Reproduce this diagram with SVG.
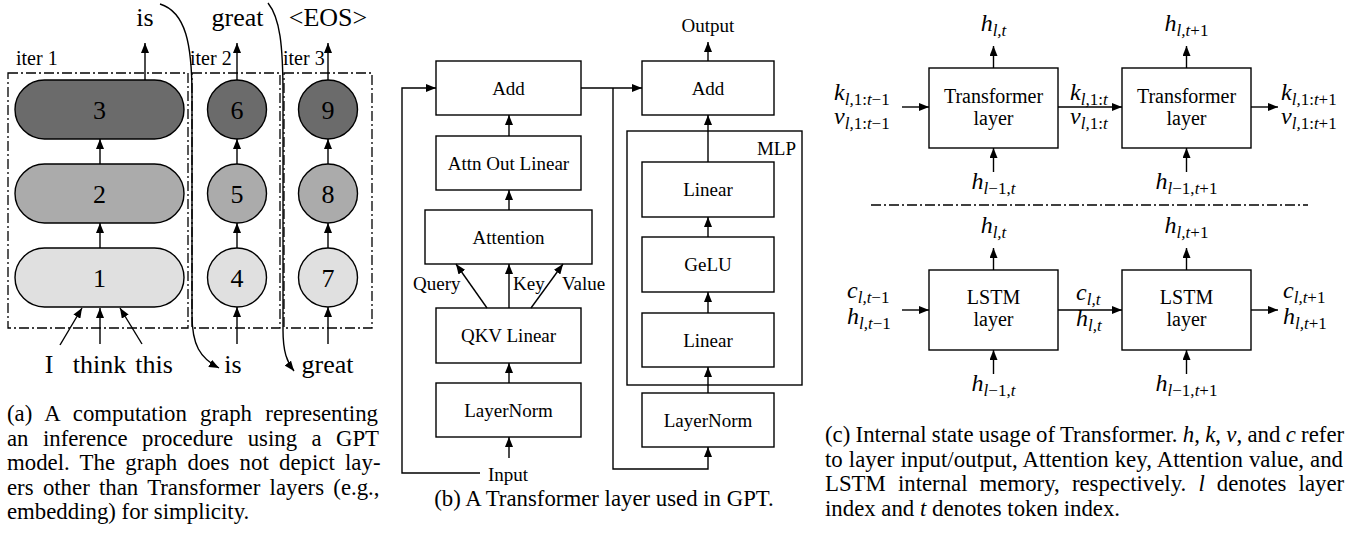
<svg xmlns="http://www.w3.org/2000/svg" width="1359" height="548" viewBox="0 0 1359 548">
<style>
.t{font-family:"Liberation Serif","Times New Roman",serif;fill:#000}
.big{font-size:26px}
.lab{font-size:19px}
.it{font-size:20px}
.cap{font-size:22.8px}
.m{font-family:"Liberation Serif","Times New Roman",serif;font-style:italic;font-size:24px;fill:#000}
.sub{font-size:17px}
.r{font-style:normal}
.box{fill:#fff;stroke:#000;stroke-width:1.4}
.ln{fill:none;stroke:#000;stroke-width:1.4}
.arr{fill:none;stroke:#000;stroke-width:1.4;marker-end:url(#ah)}
.dd{fill:none;stroke:#000;stroke-width:1.3;stroke-dasharray:10 3 2 3}
.n3{fill:#6b6b6b;stroke:#000;stroke-width:1.4}
.n2{fill:#ababab;stroke:#000;stroke-width:1.4}
.n1{fill:#e0e0e0;stroke:#000;stroke-width:1.4}
</style>
<defs>
<marker id="ah" viewBox="0 0 10 8" refX="10" refY="4" markerWidth="10" markerHeight="8" markerUnits="userSpaceOnUse" orient="auto"><path d="M0,0 L10,4 L0,8 z" fill="#000"/></marker>
</defs>

<!-- Panel (a) -->
<g id="a-iter-boxes">
<rect class="dd" x="8" y="73" width="180" height="255"/>
<rect class="dd" x="192" y="73" width="88" height="255"/>
<rect class="dd" x="284" y="73" width="88" height="255"/>
<text class="t it" x="16" y="65">iter 1</text>
<text class="t it" x="190" y="65">iter 2</text>
<text class="t it" x="283" y="65">iter 3</text>
</g>
<g id="node-3"><rect class="n3" x="15" y="80" width="169" height="59" rx="29.5"/><text class="t big" x="99.5" y="119" text-anchor="middle">3</text></g>
<g id="node-2"><rect class="n2" x="15" y="164" width="169" height="59" rx="29.5"/><text class="t big" x="99.5" y="203" text-anchor="middle">2</text></g>
<g id="node-1"><rect class="n1" x="15" y="248" width="169" height="59" rx="29.5"/><text class="t big" x="99.5" y="287" text-anchor="middle">1</text></g>
<g id="node-6"><circle class="n3" cx="237" cy="109.5" r="29.5"/><text class="t big" x="237" y="119" text-anchor="middle">6</text></g>
<g id="node-5"><circle class="n2" cx="237" cy="193.5" r="29.5"/><text class="t big" x="237" y="203" text-anchor="middle">5</text></g>
<g id="node-4"><circle class="n1" cx="237" cy="277.5" r="29.5"/><text class="t big" x="237" y="287" text-anchor="middle">4</text></g>
<g id="node-9"><circle class="n3" cx="328" cy="109.5" r="29.5"/><text class="t big" x="328" y="119" text-anchor="middle">9</text></g>
<g id="node-8"><circle class="n2" cx="328" cy="193.5" r="29.5"/><text class="t big" x="328" y="203" text-anchor="middle">8</text></g>
<g id="node-7"><circle class="n1" cx="328" cy="277.5" r="29.5"/><text class="t big" x="328" y="287" text-anchor="middle">7</text></g>
<g id="a-tokens">
<text class="t big" x="145" y="26" text-anchor="middle">is</text>
<text class="t big" x="237.5" y="26" text-anchor="middle">great</text>
<text class="t big" x="328" y="26" text-anchor="middle">&lt;EOS&gt;</text>
<text class="t big" x="49" y="373" text-anchor="middle">I</text>
<text class="t big" x="99.5" y="373" text-anchor="middle">think</text>
<text class="t big" x="154" y="373" text-anchor="middle">this</text>
<text class="t big" x="233" y="373" text-anchor="middle">is</text>
<text class="t big" x="327.5" y="373" text-anchor="middle">great</text>
</g>
<g id="a-connectors">
<line class="arr" x1="145" y1="80" x2="145" y2="43"/>
<line class="arr" x1="237" y1="80" x2="237" y2="43"/>
<line class="arr" x1="328" y1="80" x2="328" y2="43"/>
<line class="arr" x1="100" y1="164" x2="100" y2="139"/>
<line class="arr" x1="237" y1="164" x2="237" y2="139"/>
<line class="arr" x1="328" y1="164" x2="328" y2="139"/>
<line class="arr" x1="100" y1="248" x2="100" y2="223"/>
<line class="arr" x1="237" y1="248" x2="237" y2="223"/>
<line class="arr" x1="328" y1="248" x2="328" y2="223"/>
<line class="arr" x1="60" y1="345" x2="82" y2="308"/>
<line class="arr" x1="100" y1="344" x2="100" y2="308"/>
<line class="arr" x1="142" y1="344" x2="120" y2="308"/>
<line class="arr" x1="237" y1="344" x2="237" y2="307"/>
<line class="arr" x1="328" y1="344" x2="328" y2="307"/>
<path class="arr" d="M160,4 C186,12 192,45 192,95 L192,315 C192,345 200,358 219,368"/>
<path class="arr" d="M268,3 C280,18 283,45 283,95 L283,330 C283,352 287,362 294,371"/>
</g>

<!-- Panel (b) -->
<g id="b-add1"><rect class="box" x="436" y="61" width="145" height="54"/><text class="t lab" x="508.5" y="94.5" text-anchor="middle">Add</text></g>
<g id="b-attnout"><rect class="box" x="436" y="136" width="145" height="54"/><text class="t lab" x="508.5" y="169.5" text-anchor="middle">Attn Out Linear</text></g>
<g id="b-attention"><rect class="box" x="425" y="210" width="167" height="54"/><text class="t lab" x="508.5" y="243.5" text-anchor="middle">Attention</text></g>
<g id="b-qkv"><rect class="box" x="436" y="308" width="145" height="55"/><text class="t lab" x="508.5" y="342" text-anchor="middle">QKV Linear</text></g>
<g id="b-ln1"><rect class="box" x="436" y="383" width="145" height="54"/><text class="t lab" x="508.5" y="416.5" text-anchor="middle">LayerNorm</text></g>
<g id="b-mlp"><rect class="box" x="627" y="131" width="175" height="254" style="fill:none"/><text class="t lab" x="796" y="155" text-anchor="end">MLP</text></g>
<g id="b-add2"><rect class="box" x="642" y="61" width="132" height="54"/><text class="t lab" x="708" y="94.5" text-anchor="middle">Add</text></g>
<g id="b-linear2"><rect class="box" x="642" y="162" width="132" height="55"/><text class="t lab" x="708" y="196" text-anchor="middle">Linear</text></g>
<g id="b-gelu"><rect class="box" x="642" y="237" width="132" height="55"/><text class="t lab" x="708" y="271" text-anchor="middle">GeLU</text></g>
<g id="b-linear1"><rect class="box" x="642" y="313" width="132" height="54"/><text class="t lab" x="708" y="346.5" text-anchor="middle">Linear</text></g>
<g id="b-ln2"><rect class="box" x="642" y="393" width="132" height="54"/><text class="t lab" x="708" y="426.5" text-anchor="middle">LayerNorm</text></g>
<g id="b-labels">
<text class="t lab" x="708" y="32" text-anchor="middle">Output</text>
<text class="t lab" x="488" y="481">Input</text>
<text class="t lab" x="413" y="290">Query</text>
<text class="t lab" x="513" y="290">Key</text>
<text class="t lab" x="562" y="290">Value</text>
</g>
<g id="b-connectors">
<line class="arr" x1="509" y1="458" x2="509" y2="437"/>
<line class="arr" x1="509" y1="383" x2="509" y2="363"/>
<line class="arr" x1="487" y1="308" x2="456" y2="264"/>
<line class="arr" x1="509" y1="308" x2="509" y2="264"/>
<line class="arr" x1="531" y1="308" x2="563" y2="264"/>
<line class="arr" x1="509" y1="210" x2="509" y2="190"/>
<line class="arr" x1="509" y1="136" x2="509" y2="115"/>
<path class="arr" d="M480,473 L402,473 L402,88 L436,88"/>
<line class="arr" x1="581" y1="88" x2="642" y2="88"/>
<path class="arr" d="M613,88 L613,469 L708,469 L708,447"/>
<line class="arr" x1="708" y1="393" x2="708" y2="367"/>
<line class="arr" x1="708" y1="313" x2="708" y2="292"/>
<line class="arr" x1="708" y1="237" x2="708" y2="217"/>
<line class="arr" x1="708" y1="162" x2="708" y2="115"/>
<line class="arr" x1="708" y1="61" x2="708" y2="42"/>
</g>

<!-- Panel (c) -->
<g id="c-trans1"><rect class="box" x="929" y="68" width="129" height="80"/><text class="t it" x="993.5" y="103" text-anchor="middle">Transformer</text><text class="t it" x="993.5" y="125" text-anchor="middle">layer</text></g>
<g id="c-trans2"><rect class="box" x="1122" y="68" width="129" height="80"/><text class="t it" x="1186.5" y="103" text-anchor="middle">Transformer</text><text class="t it" x="1186.5" y="125" text-anchor="middle">layer</text></g>
<g id="c-lstm1"><rect class="box" x="929" y="270" width="129" height="80"/><text class="t it" x="993.5" y="304" text-anchor="middle">LSTM</text><text class="t it" x="993.5" y="326" text-anchor="middle">layer</text></g>
<g id="c-lstm2"><rect class="box" x="1122" y="270" width="129" height="80"/><text class="t it" x="1186.5" y="304" text-anchor="middle">LSTM</text><text class="t it" x="1186.5" y="326" text-anchor="middle">layer</text></g>
<g id="c-labels">
<text class="m" x="993.5" y="31" text-anchor="middle">h<tspan class="sub" dy="5">l,t</tspan></text>
<text class="m" x="1186.5" y="31" text-anchor="middle">h<tspan class="sub" dy="5">l,t<tspan class="r">+1</tspan></tspan></text>
<text class="m" x="993.5" y="189" text-anchor="middle">h<tspan class="sub" dy="5">l<tspan class="r">−1,</tspan>t</tspan></text>
<text class="m" x="1186.5" y="189" text-anchor="middle">h<tspan class="sub" dy="5">l<tspan class="r">−1,</tspan>t<tspan class="r">+1</tspan></tspan></text>
<text class="m" x="834" y="100">k<tspan class="sub" dy="5">l,<tspan class="r">1:</tspan>t<tspan class="r">−1</tspan></tspan></text>
<text class="m" x="834" y="124">v<tspan class="sub" dy="5">l,<tspan class="r">1:</tspan>t<tspan class="r">−1</tspan></tspan></text>
<text class="m" x="1070" y="100">k<tspan class="sub" dy="5">l,<tspan class="r">1:</tspan>t</tspan></text>
<text class="m" x="1070" y="124">v<tspan class="sub" dy="5">l,<tspan class="r">1:</tspan>t</tspan></text>
<text class="m" x="1281" y="100">k<tspan class="sub" dy="5">l,<tspan class="r">1:</tspan>t<tspan class="r">+1</tspan></tspan></text>
<text class="m" x="1281" y="124">v<tspan class="sub" dy="5">l,<tspan class="r">1:</tspan>t<tspan class="r">+1</tspan></tspan></text>
<text class="m" x="993.5" y="233" text-anchor="middle">h<tspan class="sub" dy="5">l,t</tspan></text>
<text class="m" x="1186.5" y="233" text-anchor="middle">h<tspan class="sub" dy="5">l,t<tspan class="r">+1</tspan></tspan></text>
<text class="m" x="993.5" y="391" text-anchor="middle">h<tspan class="sub" dy="5">l<tspan class="r">−1,</tspan>t</tspan></text>
<text class="m" x="1186.5" y="391" text-anchor="middle">h<tspan class="sub" dy="5">l<tspan class="r">−1,</tspan>t<tspan class="r">+1</tspan></tspan></text>
<text class="m" x="847" y="298">c<tspan class="sub" dy="5">l,t<tspan class="r">−1</tspan></tspan></text>
<text class="m" x="847" y="324">h<tspan class="sub" dy="5">l,t<tspan class="r">−1</tspan></tspan></text>
<text class="m" x="1076" y="300">c<tspan class="sub" dy="5">l,t</tspan></text>
<text class="m" x="1076" y="326">h<tspan class="sub" dy="5">l,t</tspan></text>
<text class="m" x="1283" y="298">c<tspan class="sub" dy="5">l,t<tspan class="r">+1</tspan></tspan></text>
<text class="m" x="1283" y="324">h<tspan class="sub" dy="5">l,t<tspan class="r">+1</tspan></tspan></text>
</g>
<g id="c-connectors">
<line class="arr" x1="993.5" y1="68" x2="993.5" y2="46"/>
<line class="arr" x1="1186.5" y1="68" x2="1186.5" y2="46"/>
<line class="arr" x1="993.5" y1="172" x2="993.5" y2="148"/>
<line class="arr" x1="1186.5" y1="172" x2="1186.5" y2="148"/>
<line class="arr" x1="902" y1="107" x2="929" y2="107"/>
<line class="arr" x1="1058" y1="107" x2="1122" y2="107"/>
<line class="arr" x1="1251" y1="107" x2="1278" y2="107"/>
<line class="dd" x1="871" y1="205" x2="1308" y2="205"/>
<line class="arr" x1="993.5" y1="270" x2="993.5" y2="248"/>
<line class="arr" x1="1186.5" y1="270" x2="1186.5" y2="248"/>
<line class="arr" x1="993.5" y1="374" x2="993.5" y2="350"/>
<line class="arr" x1="1186.5" y1="374" x2="1186.5" y2="350"/>
<line class="arr" x1="902" y1="310" x2="929" y2="310"/>
<line class="arr" x1="1058" y1="310" x2="1122" y2="310"/>
<line class="arr" x1="1251" y1="310" x2="1278" y2="310"/>
</g>

<!-- Captions -->
<g id="captions">
<text class="t cap" x="7" y="421" word-spacing="7.6">(a) A computation graph representing</text>
<text class="t cap" x="7" y="445.5" word-spacing="8.7">an inference procedure using a GPT</text>
<text class="t cap" x="7" y="470" word-spacing="4.6">model. The graph does not depict lay-</text>
<text class="t cap" x="7" y="494.5" word-spacing="3.6">ers other than Transformer layers (e.g.,</text>
<text class="t cap" x="7" y="519">embedding) for simplicity.</text>
<text class="t cap" x="604" y="506" text-anchor="middle">(b) A Transformer layer used in GPT.</text>
<text class="t cap" x="825" y="442" word-spacing="-0.4">(c) Internal state usage of Transformer. <tspan font-style="italic">h</tspan>, <tspan font-style="italic">k</tspan>, <tspan font-style="italic">v</tspan>, and <tspan font-style="italic">c</tspan> refer</text>
<text class="t cap" x="825" y="466.5" word-spacing="0.4">to layer input/output, Attention key, Attention value, and</text>
<text class="t cap" x="825" y="491" word-spacing="6.4">LSTM internal memory, respectively. <tspan font-style="italic">l</tspan> denotes layer</text>
<text class="t cap" x="825" y="515.5">index and <tspan font-style="italic">t</tspan> denotes token index.</text>
</g>
</svg>
